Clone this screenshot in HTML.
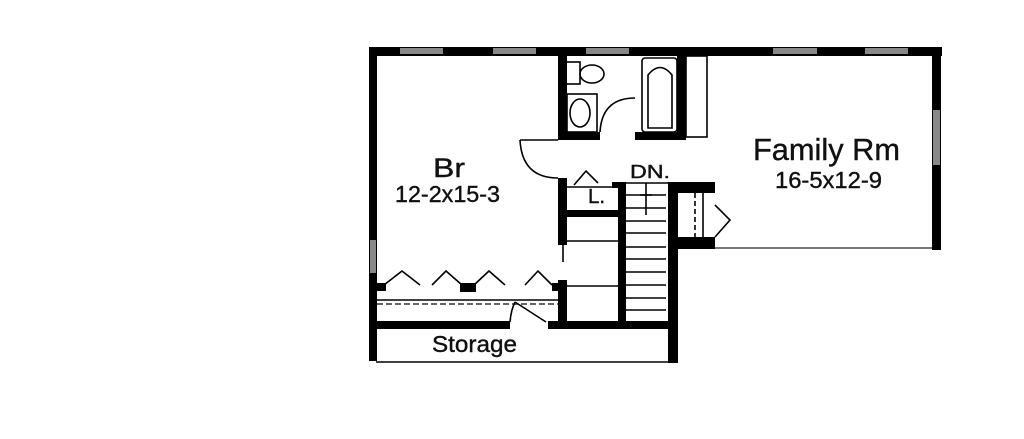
<!DOCTYPE html>
<html><head><style>body{margin:0;background:#fff}svg{display:block}text{font-family:"Liberation Sans",sans-serif;fill:#111;stroke:#111;stroke-width:0.4}</style></head><body>
<svg width="1024" height="439" viewBox="0 0 1024 439" xmlns="http://www.w3.org/2000/svg">
<g fill="#000">
<rect x="369" y="47" width="573" height="9"/>
<rect x="369" y="47" width="8" height="314"/>
<rect x="932" y="47" width="9" height="203"/>
<rect x="558" y="47" width="9" height="93"/>
<rect x="558" y="132" width="42" height="8"/>
<rect x="635" y="132" width="50" height="8"/>
<rect x="677" y="47" width="9" height="93"/>
<rect x="558" y="178" width="9" height="67"/>
<rect x="567" y="210" width="51" height="7"/>
<rect x="612" y="182" width="14" height="6"/>
<rect x="618" y="182" width="8" height="145"/>
<rect x="668" y="182" width="47" height="11"/>
<rect x="668" y="182" width="10" height="181"/>
<rect x="668" y="237" width="47" height="12"/>
<rect x="558" y="280" width="9" height="48"/>
<rect x="369" y="321" width="141" height="8"/>
<rect x="548" y="321" width="130" height="8"/>
<rect x="376" y="283" width="10" height="8"/>
<rect x="460" y="283" width="16" height="9"/>
<rect x="552" y="283" width="6" height="8"/>
</g>
<g fill="#888">
<rect x="400" y="48" width="43" height="6"/><rect x="493" y="48" width="43" height="6"/><rect x="586" y="48" width="43" height="6"/>
<rect x="773" y="48" width="44" height="6"/><rect x="865" y="48" width="43" height="6"/>
<rect x="933" y="110" width="7" height="55"/>
<rect x="370" y="240" width="6" height="33"/>
</g>
<g fill="none" stroke="#000" stroke-width="1.6">
<rect x="566" y="62" width="14" height="22"/>
<ellipse cx="592" cy="74" rx="12" ry="9"/>
<rect x="567" y="94" width="30" height="38"/>
<ellipse cx="580" cy="113" rx="10" ry="14"/>
<path d="M600 132 Q602 98 635 98"/>
<rect x="642" y="58" width="35" height="74" rx="3"/>
<path d="M648 128 V75 Q660 60 672 75 V128 Z"/>
<rect x="686" y="56" width="21" height="81"/>
<path d="M520 140 H558 M520 140 Q522 178 558 178"/>
<path d="M574 185 L586 171 L598 183"/>
<line x1="567" y1="187" x2="612" y2="187"/>
<line x1="567" y1="241" x2="618" y2="241"/>
<line x1="563" y1="245" x2="563" y2="262"/>
<line x1="567" y1="286" x2="618" y2="286"/>
<line x1="626" y1="183" x2="668" y2="183"/>
<line x1="646" y1="183" x2="646" y2="215"/><line x1="640" y1="195" x2="652" y2="195"/>
<path d="M626 195H666M626 208H666M626 221H666M626 233H666M626 247H666M626 259H666M626 272H666M626 285H666M626 298H666M626 310H666"/>
<line x1="703" y1="193" x2="703" y2="237"/>
<line x1="695" y1="193" x2="695" y2="237" stroke-dasharray="5,3"/>
<path d="M715 205 L730 220 L715 237"/>
<line x1="715" y1="248" x2="932" y2="248" stroke="#777" stroke-width="2"/>
<path d="M384 285 L402 271 L420 285 M432 285 L446 271 L462 285 M474 285 L489 271 L505 285 M525 285 L538 271 L552 285"/>
<line x1="377" y1="300" x2="558" y2="300"/>
<line x1="377" y1="304" x2="558" y2="304" stroke="#666" stroke-width="2" stroke-dasharray="6,3"/>
<path d="M515 302 L546 322 M515 302 Q511 310 510 322"/>
<line x1="376" y1="362" x2="671" y2="362"/>
</g>
<text x="433" y="177" font-size="27" textLength="32" lengthAdjust="spacingAndGlyphs">Br</text>
<text x="395" y="202" font-size="23" textLength="105" lengthAdjust="spacingAndGlyphs">12-2x15-3</text>
<text x="753" y="160" font-size="31" textLength="147" lengthAdjust="spacingAndGlyphs">Family Rm</text>
<text x="775" y="188" font-size="23" textLength="107" lengthAdjust="spacingAndGlyphs">16-5x12-9</text>
<text x="630" y="178" font-size="18" textLength="40" lengthAdjust="spacingAndGlyphs">DN.</text>
<text x="588" y="203" font-size="20" textLength="17" lengthAdjust="spacingAndGlyphs">L.</text>
<text x="432" y="352" font-size="23" textLength="85" lengthAdjust="spacingAndGlyphs">Storage</text>
</svg>
</body></html>
